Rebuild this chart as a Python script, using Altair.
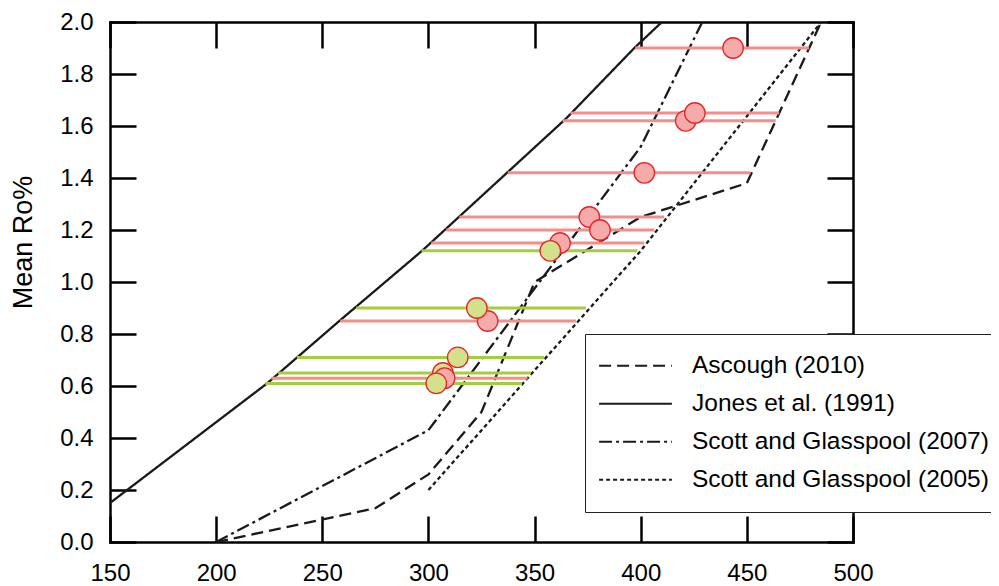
import altair as alt
import pandas as pd

# ---- reference curves (temperature °C vs mean Ro%) ----
ascough_x = [200, 275, 300, 325, 350, 400, 450, 485]
ascough_y = [0.0, 0.13, 0.26, 0.50, 1.00, 1.25, 1.38, 2.0]

jones_x = [150, 224, 258, 297, 337, 365, 397, 410]
jones_y = [0.15, 0.61, 0.85, 1.12, 1.42, 1.63, 1.90, 2.0]

scott2007_x = [200, 300, 400, 429]
scott2007_y = [0.0, 0.43, 1.52, 2.0]

scott2005_x = [300, 400, 485]
scott2005_y = [0.2, 1.12, 2.0]

series_names = ["Ascough (2010)", "Jones et al. (1991)",
                "Scott and Glasspool (2007)", "Scott and Glasspool (2005)"]

# ---- samples: mean temperature, Ro%, temperature range, group ----
pt_x = [443.5, 421.2, 425.5, 401.7, 375.8, 380.8, 362.0, 357.4, 327.9, 322.8, 306.8, 307.6, 303.7, 313.8]
pt_y = [1.90, 1.62, 1.65, 1.42, 1.25, 1.20, 1.15, 1.12, 0.85, 0.90, 0.65, 0.63, 0.61, 0.71]
pt_min = [397.4, 363.2, 366.9, 337.4, 314.6, 308.4, 301.3, 296.8, 258.5, 266.0, 229.2, 226.0, 223.2, 238.1]
pt_max = [479.3, 463.6, 465.2, 451.8, 411.1, 406.4, 401.7, 398.4, 369.5, 374.2, 348.3, 346.7, 344.1, 354.6]
pt_group = ["a", "a", "a", "a", "a", "a", "a", "b", "a", "b", "b", "a", "b", "b"]

x_ticks = [150, 200, 250, 300, 350, 400, 450, 500]
y_ticks = [0.0, 0.2, 0.4, 0.6, 0.8, 1.0, 1.2, 1.4, 1.6, 1.8, 2.0]

FONT = "Liberation Sans"

rows = []
for name, xs_, ys_ in zip(series_names,
                          [ascough_x, jones_x, scott2007_x, scott2005_x],
                          [ascough_y, jones_y, scott2007_y, scott2005_y]):
    for i, (a, b) in enumerate(zip(xs_, ys_)):
        rows.append({"series": name, "T": a, "Ro": b, "i": i})
curves_df = pd.DataFrame(rows)

pts_df = pd.DataFrame({"T": pt_x, "Ro": pt_y, "Tmin": pt_min, "Tmax": pt_max,
                       "group": pt_group, "k": list(range(len(pt_x)))})

xs = alt.Scale(domain=[150, 500], nice=False, zero=False)
ys = alt.Scale(domain=[0, 2.0], nice=False)

common_axis = dict(grid=False, domainColor="black", domainWidth=2.5,
                   tickColor="black", tickWidth=2.5, tickSize={"expr": "-26"},
                   labelFont=FONT, labelFontSize=24, labelColor="black",
                   domainCap="square")

ax_bottom = alt.Axis(orient="bottom", values=x_ticks, title=None, labelPadding=45,
                     labelFlush=False, labelOverlap=False, **common_axis)
ax_left = alt.Axis(orient="left", values=y_ticks, format=".1f", labelPadding=43,
                   title="Mean Ro%", titleFont=FONT, titleFontSize=27,
                   titleFontWeight="normal", titleColor="black",
                   titleX=-87, titleY=220, titleAngle=270, titleBaseline="middle",
                   titleAlign="center", labelFlush=False, labelOverlap=False,
                   **common_axis)
ax_top = alt.Axis(orient="top", values=x_ticks, title=None, labels=False, **common_axis)
ax_right = alt.Axis(orient="right", values=y_ticks, title=None, labels=False, **common_axis)

curves = alt.Chart(curves_df).mark_line(strokeWidth=2.3, color="#1a1a1a").encode(
    x=alt.X("T:Q", scale=xs, axis=ax_bottom),
    y=alt.Y("Ro:Q", scale=ys, axis=ax_left),
    order="i:O",
    strokeDash=alt.StrokeDash(
        "series:N",
        scale=alt.Scale(domain=series_names,
                        range=[[12, 6], [1, 0], [13, 4, 3, 4], [4, 3]]),
        legend=alt.Legend(
            title=None, orient="none", legendX=475, legendY=312,
            fillColor="white", strokeColor="#222", padding=13,
            symbolType="stroke", symbolSize=5300, symbolStrokeWidth=2,
            symbolStrokeColor="#1a1a1a", labelFont=FONT, labelFontSize=24.5,
            labelColor="black", labelOffset=19, labelLimit=500,
            clipHeight=37.7, rowPadding=0, cornerRadius=0,
        ),
    ),
)

hlines = alt.Chart(pts_df).mark_rule(strokeWidth=3).encode(
    x=alt.X("Tmin:Q", scale=xs, axis=ax_top),
    x2="Tmax:Q",
    y=alt.Y("Ro:Q", scale=ys, axis=ax_right),
    color=alt.Color("group:N", scale=alt.Scale(domain=["a", "b"],
                                               range=["#f48e8a", "#a6cd3f"]),
                    legend=None),
)

points = alt.Chart(pts_df).mark_circle(size=420, opacity=1, stroke="#e8242b",
                                       strokeWidth=1.3).encode(
    x=alt.X("T:Q", scale=xs, axis=None),
    y=alt.Y("Ro:Q", scale=ys, axis=None),
    fill=alt.Fill("group:N", scale=alt.Scale(domain=["a", "b"],
                                             range=["#f6abab", "#d3e18c"]),
                  legend=None),
    order="k:Q",
)

chart = alt.layer(curves, hlines, points).resolve_axis(
    x="independent", y="independent"
).properties(
    width=743, height=520,
    autosize=alt.AutoSizeParams(type="none"),
    padding={"left": 102, "top": 14, "right": 138, "bottom": 42},
).configure_view(stroke=None).configure(background="white")

chart.save("out.html", embed_options={"renderer": "svg", "actions": False})
